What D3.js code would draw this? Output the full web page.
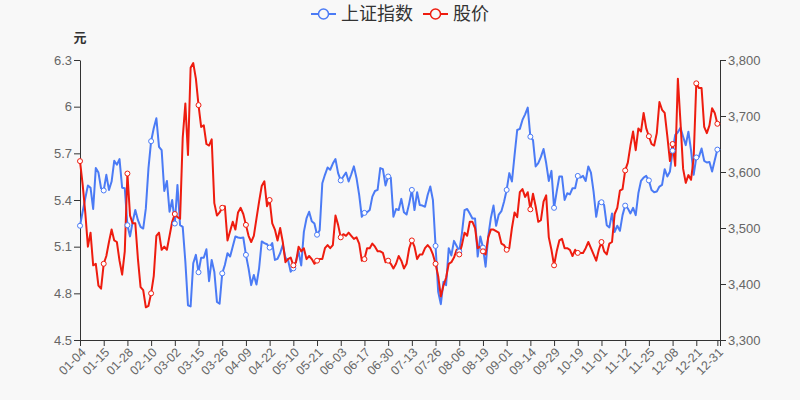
<!DOCTYPE html>
<html>
<head>
<meta charset="utf-8">
<script src="https://cdn.jsdelivr.net/npm/d3@7/dist/d3.min.js"></script>
<style>
  body { margin: 0; background: #f8f8f8; }
  svg { display: block; font-family: "Liberation Sans", Arial, "Noto Sans CJK SC", sans-serif; }
</style>
</head>
<body>
<div id="chart"></div>
<script>
// trading days (categories)
var dates = ["01-04","01-05","01-06","01-07","01-08","01-11","01-12","01-13","01-14","01-15","01-18","01-19","01-20","01-21","01-22","01-25","01-26","01-27","01-28","01-29",
  "02-01","02-02","02-03","02-04","02-05","02-08","02-09","02-10","02-18","02-19","02-22","02-23","02-24","02-25","02-26",
  "03-01","03-02","03-03","03-04","03-05","03-08","03-09","03-10","03-11","03-12","03-15","03-16","03-17","03-18","03-19","03-22","03-23","03-24","03-25","03-26","03-29","03-30","03-31",
  "04-01","04-02","04-06","04-07","04-08","04-09","04-12","04-13","04-14","04-15","04-16","04-19","04-20","04-21","04-22","04-23","04-26","04-27","04-28","04-29","04-30",
  "05-06","05-07","05-10","05-11","05-12","05-13","05-14","05-17","05-18","05-19","05-20","05-21","05-24","05-25","05-26","05-27","05-28","05-31",
  "06-01","06-02","06-03","06-04","06-07","06-08","06-09","06-10","06-11","06-15","06-16","06-17","06-18","06-21","06-22","06-23","06-24","06-25","06-28","06-29","06-30",
  "07-01","07-02","07-05","07-06","07-07","07-08","07-09","07-12","07-13","07-14","07-15","07-16","07-19","07-20","07-21","07-22","07-23","07-26","07-27","07-28","07-29","07-30",
  "08-02","08-03","08-04","08-05","08-06","08-09","08-10","08-11","08-12","08-13","08-16","08-17","08-18","08-19","08-20","08-23","08-24","08-25","08-26","08-27","08-30","08-31",
  "09-01","09-02","09-03","09-06","09-07","09-08","09-09","09-10","09-13","09-14","09-15","09-16","09-17","09-22","09-23","09-24","09-27","09-28","09-29","09-30",
  "10-08","10-11","10-12","10-13","10-14","10-15","10-18","10-19","10-20","10-21","10-22","10-25","10-26","10-27","10-28","10-29",
  "11-01","11-02","11-03","11-04","11-05","11-08","11-09","11-10","11-11","11-12","11-15","11-16","11-17","11-18","11-19","11-22","11-23","11-24","11-25","11-26","11-29","11-30",
  "12-01","12-02","12-03","12-06","12-07","12-08","12-09","12-10","12-13","12-14","12-15","12-16","12-17","12-20","12-21","12-22","12-23","12-24","12-27","12-28","12-29","12-30","12-31"];

// 上证指数 (right axis)
var indexValues = [3504,3529,3553,3576,3572,3534,3607,3599,3571,3567,
  3595,3568,3583,3620,3613,3623,3572,3571,3505,3485,
  3511,3532,3514,3502,3499,3535,3607,3655,3678,3696,
  3645,3639,3566,3584,3529,3550,3508,3577,3505,3502,
  3440,3362,3360,3437,3452,3421,3447,3447,3462,3405,
  3443,3422,3368,3365,3419,3434,3455,3449,3467,3485,
  3483,3482,3483,3452,3428,3398,3416,3399,3428,3476,
  3473,3471,3465,3473,3443,3445,3455,3470,3447,3443,
  3422,3428,3440,3458,3433,3493,3517,3529,3512,3508,
  3488,3496,3580,3595,3608,3604,3615,3623,3598,3585,
  3592,3599,3583,3596,3610,3589,3559,3520,3527,3528,
  3532,3556,3566,3568,3607,3605,3576,3592,3590,3520,
  3534,3532,3552,3528,3524,3544,3568,3532,3564,3541,
  3540,3538,3559,3574,3550,3468,3386,3364,3404,3398,
  3464,3451,3477,3468,3458,3490,3532,3534,3526,3517,
  3517,3449,3485,3465,3431,3485,3518,3540,3504,3524,
  3530,3547,3568,3598,3583,3630,3675,3677,3693,3703,
  3715,3663,3657,3610,3616,3627,3641,3616,3584,3602,
  3536,3565,3592,3592,3550,3562,3560,3571,3571,3593,
  3590,3593,3584,3610,3599,3565,3520,3547,3546,3541,
  3505,3501,3526,3493,3504,3495,3523,3540,3535,3526,
  3536,3523,3562,3584,3590,3593,3585,3568,3564,3565,
  3574,3577,3605,3592,3601,3638,3666,3671,3679,3663,
  3648,3672,3639,3595,3626,3627,3642,3620,3617,3618,
  3601,3621,3640];

// 股价 (left axis, 元)
var priceValues = [5.65,5.50,5.32,5.10,5.19,4.98,4.99,4.85,4.83,4.99,
  5.04,5.13,5.21,5.14,5.13,5.01,4.92,5.07,5.57,5.30,
  5.25,5.25,5.02,4.84,4.82,4.71,4.72,4.80,4.91,5.17,
  5.19,5.08,5.10,5.08,5.17,5.26,5.31,5.29,5.28,5.80,
  6.02,5.69,6.25,6.28,6.18,6.01,5.87,5.88,5.76,5.75,
  5.79,5.38,5.30,5.32,5.35,5.36,5.14,5.20,5.26,5.21,
  5.32,5.35,5.31,5.24,5.17,5.13,5.17,5.28,5.39,5.49,
  5.52,5.36,5.40,5.25,5.21,5.14,5.22,5.13,5.00,5.02,
  5.03,4.98,5.00,5.10,5.07,5.09,5.02,5.04,5.02,4.99,
  5.01,5.02,5.02,5.09,5.11,5.09,5.11,5.30,5.24,5.16,
  5.18,5.17,5.19,5.17,5.15,5.16,5.12,5.01,5.02,5.09,
  5.09,5.12,5.10,5.07,5.07,5.06,5.00,5.01,4.99,4.96,
  4.99,5.04,5.01,4.96,4.99,5.09,5.14,5.10,5.02,5.05,
  5.05,5.09,5.11,5.09,5.05,4.99,4.91,4.78,4.85,4.90,
  4.99,5.00,5.03,5.08,5.05,5.11,5.19,5.17,5.26,5.26,
  5.22,5.09,5.10,5.07,5.05,5.16,5.21,5.21,5.20,5.19,
  5.12,5.11,5.08,5.09,5.22,5.32,5.29,5.45,5.47,5.42,
  5.45,5.34,5.44,5.36,5.26,5.27,5.39,5.43,5.16,5.08,
  4.98,5.07,5.14,5.15,5.09,5.09,5.08,5.04,5.08,5.06,
  5.06,5.06,5.09,5.13,5.09,5.05,5.01,5.08,5.13,5.07,
  5.05,5.12,5.13,5.31,5.35,5.46,5.47,5.59,5.64,5.75,
  5.84,5.72,5.86,5.84,5.96,5.86,5.81,5.76,5.75,5.83,
  6.03,5.98,5.96,5.81,5.65,5.76,5.62,6.18,5.90,5.60,
  5.51,5.56,5.53,5.67,6.15,6.12,6.12,5.87,5.83,5.88,
  5.99,5.96,5.89];

var leftTicks = [4.5, 4.8, 5.1, 5.4, 5.7, 6.0, 6.3];
var rightTicks = [3300, 3400, 3500, 3600, 3700, 3800];
var seriesNames = ["上证指数", "股价"];

var blue = "#4b7bf5", red = "#ee1c0f", bg = "#f8f8f8";
var width = 800, height = 400;
var margin = {top: 60, right: 80, bottom: 60, left: 80};

var svg = d3.select("#chart").append("svg")
    .attr("width", width).attr("height", height);
svg.append("rect").attr("width", width).attr("height", height).attr("fill", bg);

// x: one slot per trading day, axis runs one slot past the last day
var x = d3.scaleLinear()
    .domain([0, dates.length])
    .range([margin.left, width - margin.right]);
var yL = d3.scaleLinear().domain([4.5, 6.3]).range([height - margin.bottom, margin.top]);
var yR = d3.scaleLinear().domain([3300, 3800]).range([height - margin.bottom, margin.top]);

// label every 9th day plus the last one
var labelIdx = d3.range(0, dates.length, 9);
labelIdx.push(dates.length - 1);

function styleAxis(g) {
  g.select(".domain").attr("stroke", "#333");
  g.selectAll(".tick line").attr("stroke", "#333");
  g.selectAll(".tick text").attr("fill", "#666").style("font-size", "13px");
}

// bottom axis
var xAxis = svg.append("g")
    .attr("transform", "translate(0," + (height - margin.bottom) + ")")
    .call(d3.axisBottom(x)
      .tickValues(labelIdx.concat([dates.length]))
      .tickSizeOuter(0)
      .tickFormat(function(i) { return dates[i] || ""; }));
styleAxis(xAxis);
xAxis.selectAll(".tick text")
    .style("font-size", "12.5px")
    .attr("text-anchor", "end")
    .attr("dy", "0.35em")
    .attr("transform", "translate(3,10)rotate(-45)")
    .attr("y", 0).attr("x", 0);

// left axis
var lAxis = svg.append("g")
    .attr("transform", "translate(" + margin.left + ",0)")
    .call(d3.axisLeft(yL).tickValues(leftTicks).tickSizeOuter(0)
      .tickFormat(function(d) { return String(+d.toFixed(1)); }));
styleAxis(lAxis);
lAxis.selectAll(".tick text").attr("x", -8);

// right axis
var rAxis = svg.append("g")
    .attr("transform", "translate(" + (width - margin.right) + ",0)")
    .call(d3.axisRight(yR).tickValues(rightTicks).tickSizeOuter(0)
      .tickFormat(d3.format(",")));
styleAxis(rAxis);
rAxis.selectAll(".tick text").attr("x", 8);

// unit label
svg.append("text")
    .attr("x", margin.left).attr("y", 42)
    .attr("text-anchor", "middle")
    .attr("fill", "#333")
    .style("font-size", "13px").style("font-weight", "bold")
    .text("元");

// lines
var lineIdx = d3.line().x(function(d, i) { return x(i); }).y(function(d) { return yR(d); });
var linePrice = d3.line().x(function(d, i) { return x(i); }).y(function(d) { return yL(d); });

svg.append("path").datum(indexValues)
    .attr("fill", "none").attr("stroke", blue).attr("stroke-width", 2)
    .attr("stroke-linejoin", "round").attr("d", lineIdx);
svg.append("path").datum(priceValues)
    .attr("fill", "none").attr("stroke", red).attr("stroke-width", 2)
    .attr("stroke-linejoin", "round").attr("d", linePrice);

// symbols shown only at labelled days
svg.selectAll("circle.idx").data(labelIdx).enter().append("circle")
    .attr("class", "idx")
    .attr("cx", function(i) { return x(i); })
    .attr("cy", function(i) { return yR(indexValues[i]); })
    .attr("r", 2.5).attr("fill", "#fff").attr("stroke", blue).attr("stroke-width", 1);
svg.selectAll("circle.price").data(labelIdx).enter().append("circle")
    .attr("class", "price")
    .attr("cx", function(i) { return x(i); })
    .attr("cy", function(i) { return yL(priceValues[i]); })
    .attr("r", 2.5).attr("fill", "#fff").attr("stroke", red).attr("stroke-width", 1);

// legend
var legend = svg.append("g").attr("transform", "translate(311,14)");
var legendItems = [{name: seriesNames[0], color: blue, x: 0}, {name: seriesNames[1], color: red, x: 112}];
legendItems.forEach(function(d) {
  var g = legend.append("g").attr("transform", "translate(" + d.x + ",0)");
  g.append("line").attr("x1", 0).attr("x2", 25).attr("y1", 0).attr("y2", 0)
    .attr("stroke", d.color).attr("stroke-width", 2);
  g.append("circle").attr("cx", 12.5).attr("cy", 0).attr("r", 5)
    .attr("fill", bg).attr("stroke", d.color).attr("stroke-width", 1.5);
  g.append("text").attr("x", 30).attr("y", 0).attr("dy", "0.35em")
    .attr("fill", "#333").style("font-size", "18px")
    .style("font-family", "'Noto Sans CJK SC', sans-serif")
    .text(d.name);
});
</script>
</body>
</html>
